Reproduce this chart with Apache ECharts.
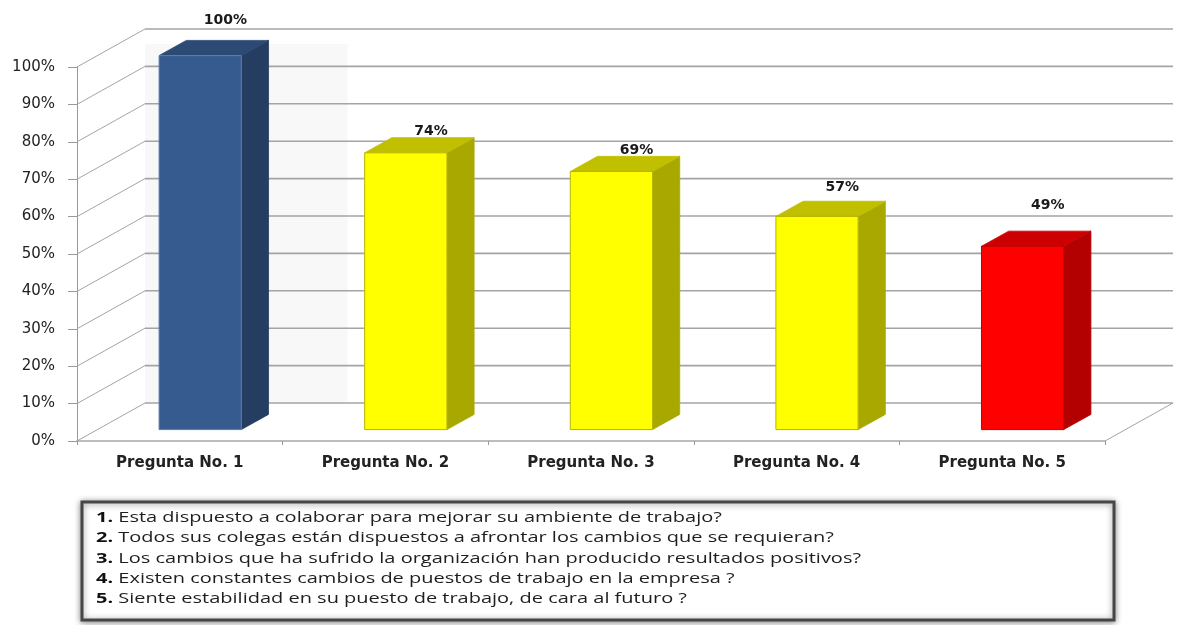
<!DOCTYPE html>
<html>
<head>
<meta charset="utf-8">
<title>Pregunta No. 1 – 5</title>
<script src="https://cdn.jsdelivr.net/npm/echarts@6/dist/echarts.min.js"></script>
<style>
  html, body { margin: 0; padding: 0; background: #ffffff; }
  #chart { width: 1178px; height: 625px; }
</style>
</head>
<body>
<div id="chart"></div>
<script>
// ---- data ----
const categories = ['Pregunta No. 1', 'Pregunta No. 2', 'Pregunta No. 3', 'Pregunta No. 4', 'Pregunta No. 5'];
const values = [100, 74, 69, 57, 49];
const yTicks = [0, 10, 20, 30, 40, 50, 60, 70, 80, 90, 100];
const questionNumbers = ['1.', '2.', '3.', '4.', '5.'];
const questions = [
  'Esta dispuesto a colaborar para mejorar su ambiente de trabajo?',
  'Todos sus colegas están dispuestos a afrontar los cambios que se requieran?',
  'Los cambios que ha sufrido la organización han producido resultados positivos?',
  'Existen constantes cambios de puestos de trabajo en la empresa ?',
  'Siente estabilidad en su puesto de trabajo, de cara al futuro ?'
];

// ---- style ----
const DEPTH = { x: 68, y: -38 };          // perspective offset of the back wall
const BAR_NEAR = 0.3, BAR_FAR = 0.7;      // bar position inside the floor depth
const BAR_RATIO = 0.4;                    // bar width relative to category band
const GRID_COLOR = '#a4a4a4';
const faces = [
  { front: '#365b8f', side: '#243d60', top: '#2c4a74', edge: '#5b7fb0' },
  { front: '#ffff00', side: '#a8a800', top: '#c0c000', edge: '#b5b500' },
  { front: '#ffff00', side: '#a8a800', top: '#c0c000', edge: '#b5b500' },
  { front: '#ffff00', side: '#a8a800', top: '#c0c000', edge: '#b5b500' },
  { front: '#ff0000', side: '#b30000', top: '#cc0000', edge: '#c00000' }
];
const labelLift = [20, 6, 6, 14, 26];

const chart = echarts.init(document.getElementById('chart'), null, { renderer: 'canvas' });

// back wall, left wall and floor lines
function renderWalls(params, api) {
  const cs = params.coordSys;
  const v = api.value(1);
  const y = api.coord([0, v])[1];
  const left = cs.x, right = cs.x + cs.width;
  const children = [];
  const line = (x1, y1, x2, y2, w) => ({
    type: 'line', z2: 1,
    shape: { x1, y1, x2, y2 },
    style: { stroke: GRID_COLOR, lineWidth: w }
  });
  if (v === yTicks[0]) {
    const topBack = api.coord([0, yTicks[yTicks.length - 1] - 4])[1] + DEPTH.y;
    const bandW = api.size([1, 0])[0];
    children.push({
      type: 'rect', z2: -1,
      shape: { x: left + DEPTH.x, y: topBack, width: bandW - 3, height: y - topBack + DEPTH.y },
      style: { fill: '#f8f8f8' }
    });
    children.push(line(right, y, right + DEPTH.x, y + DEPTH.y, 1));
  }
  children.push(line(left, y, left + DEPTH.x, y + DEPTH.y, 1));
  children.push(line(left + DEPTH.x, y + DEPTH.y, right + DEPTH.x, y + DEPTH.y, 1.6));
  return { type: 'group', children };
}

// 3D-looking bars with value labels
function renderBar(params, api) {
  const i = api.value(0);
  const v = api.value(1);
  const base = api.coord([i, 0]);
  const topPt = api.coord([i, v]);
  const half = api.size([1, 0])[0] * BAR_RATIO / 2;
  const cx = base[0];
  const fx = DEPTH.x * BAR_NEAR, fy = DEPTH.y * BAR_NEAR;
  const bx = DEPTH.x * BAR_FAR, by = DEPTH.y * BAR_FAR;
  const L = cx - half + fx, R = cx + half + fx, T = topPt[1] + fy, B = base[1] + fy;
  const L2 = cx - half + bx, R2 = cx + half + bx, T2 = topPt[1] + by, B2 = base[1] + by;
  const c = faces[i];
  return {
    type: 'group',
    children: [
      { type: 'polygon', shape: { points: [[R, B], [R, T], [R2, T2], [R2, B2]] },
        style: { fill: c.side, stroke: c.side, lineWidth: 0.8 } },
      { type: 'polygon', shape: { points: [[L, T], [R, T], [R2, T2], [L2, T2]] },
        style: { fill: c.top, stroke: c.top, lineWidth: 0.8 } },
      { type: 'rect', shape: { x: L, y: T, width: R - L, height: B - T },
        style: { fill: c.front, stroke: c.edge, lineWidth: 1 } },
      { type: 'text', x: (L2 + R2) / 2 - 2, y: T2 - labelLift[i],
        style: { text: v + '%', fill: '#1a1a1a', font: 'bold 14px "DejaVu Sans"',
                 align: 'center', verticalAlign: 'middle' } }
    ]
  };
}

// legend box text, stretched to the box width
const measureCtx = document.createElement('canvas').getContext('2d');
function textWidth(num, txt) {
  measureCtx.font = 'bold 14px "Open Sans"';
  let w = measureCtx.measureText(num + ' ').width;
  measureCtx.font = '14px "Open Sans"';
  return w + measureCtx.measureText(txt).width;
}
const stretch = 738 / textWidth(questionNumbers[1], questions[1]);

const legendGraphics = [{
  type: 'rect', z: 1,
  shape: { x: 82, y: 502, width: 1032, height: 118 },
  style: { fill: '#ffffff', stroke: '#464646', lineWidth: 3,
           shadowBlur: 6, shadowColor: 'rgba(0,0,0,0.45)', shadowOffsetY: 1 }
}];
questions.forEach((q, k) => {
  legendGraphics.push({
    type: 'text', z: 2, x: 96, y: 518 + k * 20.3, scaleX: stretch,
    style: {
      text: '{n|' + questionNumbers[k] + '} ' + q,
      font: '14px "Open Sans"', fill: '#1e1e1e', verticalAlign: 'middle',
      rich: { n: { font: 'bold 14px "Open Sans"', fill: '#111' } }
    }
  });
});

chart.setOption({
  animation: false,
  backgroundColor: '#ffffff',
  grid: { left: 77, right: 73, top: 67, bottom: 184 },
  xAxis: {
    type: 'category',
    data: categories,
    axisLine: { lineStyle: { color: '#bdbdbd', width: 2 } },
    axisTick: { show: true, length: 4, lineStyle: { color: '#999' } },
    axisLabel: { fontFamily: 'DejaVu Sans', fontWeight: 'bold', fontSize: 15, color: '#222', margin: 15 },
    splitLine: { show: false }
  },
  yAxis: {
    type: 'value',
    min: yTicks[0], max: yTicks[yTicks.length - 1], interval: yTicks[1] - yTicks[0],
    axisLine: { show: true, lineStyle: { color: '#999', width: 1 } },
    axisTick: { show: true, length: 9, lineStyle: { color: '#999' } },
    axisLabel: { formatter: '{value}%', fontFamily: 'DejaVu Sans', fontSize: 15, color: '#222', margin: 22 },
    splitLine: { show: false }
  },
  graphic: legendGraphics,
  series: [
    { type: 'custom', z: 1, renderItem: renderWalls, silent: true,
      data: yTicks.map(t => [0, t]) },
    { type: 'custom', z: 3, renderItem: renderBar,
      data: values.map((v, i) => [i, v]) }
  ]
});
</script>
</body>
</html>
